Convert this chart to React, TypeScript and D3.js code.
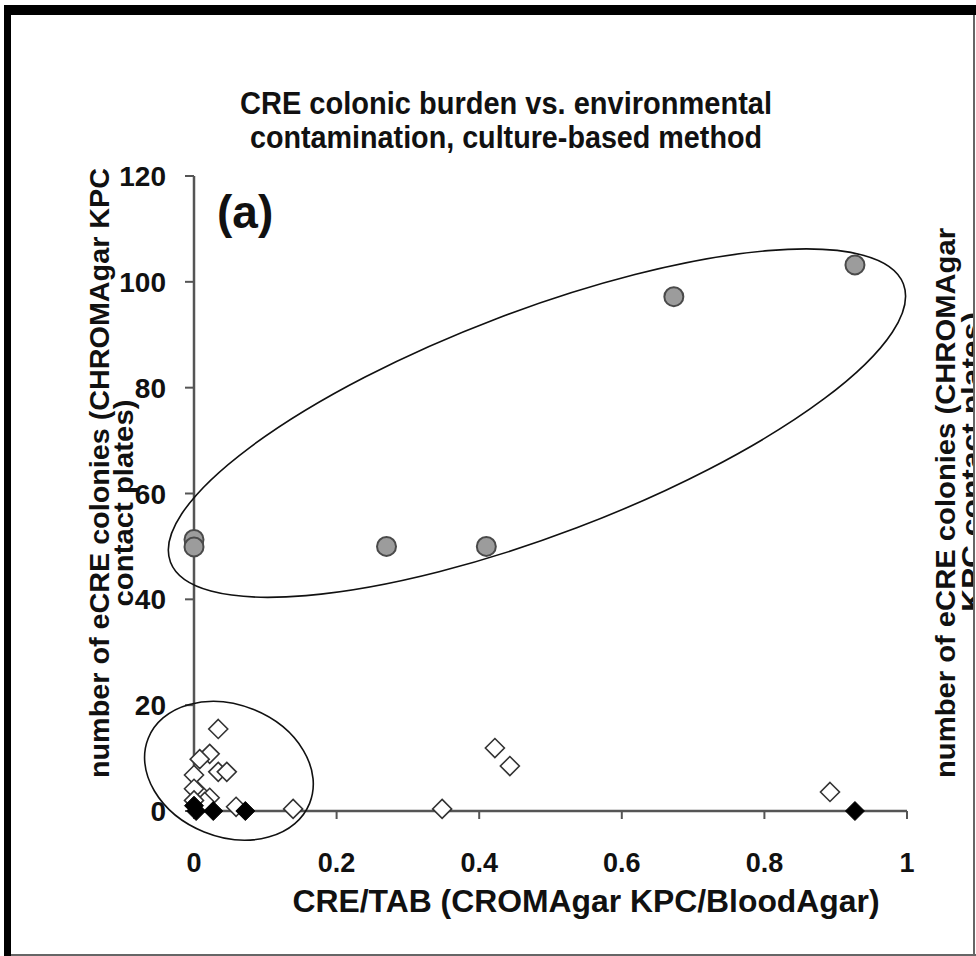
import { useEffect, useRef } from "react";
import * as d3 from "d3";

const xTicks = [0, 0.2, 0.4, 0.6, 0.8, 1];
const xTickLabels = ["0", "0.2", "0.4", "0.6", "0.8", "1"];
const yTicks = [0, 20, 40, 60, 80, 100, 120];

// grey circles: high colonic burden
const highX = [0, 0, 0.27, 0.41, 0.673, 0.927];
const highY = [51.3, 49.9, 50, 50, 97.2, 103.2];

// open diamonds
const openX = [0.034, 0.022, 0.008, 0, 0.034, 0.046, 0.006, 0, 0.022, 0.015, 0, 0.059, 0.139, 0.348, 0.422, 0.443, 0.892];
const openY = [15.5, 10.8, 9.8, 6.8, 7.4, 7.4, 3.6, 4.2, 2.5, 1.7, 2, 0.8, 0.4, 0.4, 11.9, 8.5, 3.6];

// filled diamonds
const zeroX = [0, 0.003, 0.027, 0.072, 0.927];
const zeroY = [1, 0, 0, 0, 0];

const titleLines = ["CRE colonic burden vs. environmental", "contamination, culture-based method"];
const xTitle = "CRE/TAB (CROMAgar KPC/BloodAgar)";
const yTitleLines = ["number of eCRE colonies (CHROMAgar KPC", "contact plates)"];
const y2TitleLines = ["number of eCRE colonies (CHROMAgar", "KPC contact plates)"];

export default function App() {
  const ref = useRef<SVGSVGElement | null>(null);

  useEffect(() => {
    if (!ref.current) return;
    const width = 976;
    const height = 956;
    const svg = d3.select(ref.current).attr("width", width).attr("height", height);
    svg.selectAll("*").remove();

    const x = d3.scaleLinear().domain([0, 1]).range([194, 907]);
    const y = d3.scaleLinear().domain([0, 120]).range([811, 176]);

    const narrow = "'Liberation Sans Narrow', 'Liberation Sans', Arial, sans-serif";
    const sans = "'Liberation Sans', Arial, sans-serif";

    svg.append("rect").attr("width", width).attr("height", height).attr("fill", "#fff");

    /* ---------------- FRAME ---------------- */
    svg.append("rect").attr("x", 4).attr("y", 5).attr("width", 972).attr("height", 10).attr("fill", "#000");
    svg.append("rect").attr("x", 4).attr("y", 5).attr("width", 7).attr("height", 951).attr("fill", "#000");
    svg.append("line").attr("x1", 974).attr("x2", 974).attr("y1", 15).attr("y2", 956)
      .attr("stroke", "#666").attr("stroke-width", 2);
    svg.append("line").attr("x1", 11).attr("x2", 976).attr("y1", 955).attr("y2", 955)
      .attr("stroke", "#666").attr("stroke-width", 2);

    svg.append("clipPath").attr("id", "frameClip")
      .append("rect").attr("x", 11).attr("y", 15).attr("width", 962).attr("height", 939);

    /* ---------------- TITLES ---------------- */
    const title = svg.append("g").attr("font-family", narrow).attr("font-weight", "bold")
      .attr("font-size", 32).attr("text-anchor", "middle").attr("fill", "#111");
    title.append("text").attr("x", 506).attr("y", 114).attr("textLength", 532)
      .attr("lengthAdjust", "spacingAndGlyphs").text(titleLines[0]);
    title.append("text").attr("x", 506).attr("y", 148).attr("textLength", 512)
      .attr("lengthAdjust", "spacingAndGlyphs").text(titleLines[1]);

    svg.append("text").attr("x", 586).attr("y", 912).attr("font-family", narrow)
      .attr("font-weight", "bold").attr("font-size", 31).attr("text-anchor", "middle")
      .attr("textLength", 587).attr("lengthAdjust", "spacingAndGlyphs").attr("fill", "#111")
      .text(xTitle);

    const yt = svg.append("g").attr("font-family", sans).attr("font-weight", "bold").attr("font-size", 27)
      .attr("text-anchor", "middle").attr("fill", "#111");
    yt.append("text").attr("transform", "translate(100,473) rotate(-90)").attr("dy", "0.35em")
      .attr("textLength", 610).attr("lengthAdjust", "spacingAndGlyphs").text(yTitleLines[0]);
    yt.append("text").attr("transform", "translate(124,503) rotate(-90)").attr("dy", "0.35em")
      .attr("textLength", 207).attr("lengthAdjust", "spacingAndGlyphs").text(yTitleLines[1]);

    const yt2 = svg.append("g").attr("clip-path", "url(#frameClip)").attr("font-family", sans)
      .attr("font-weight", "bold").attr("font-size", 27).attr("text-anchor", "middle").attr("fill", "#111");
    yt2.append("text").attr("transform", "translate(946,503) rotate(-90)").attr("dy", "0.35em")
      .attr("textLength", 550).attr("lengthAdjust", "spacingAndGlyphs").text(y2TitleLines[0]);
    yt2.append("text").attr("transform", "translate(972,462) rotate(-90)").attr("dy", "0.35em")
      .attr("textLength", 300).attr("lengthAdjust", "spacingAndGlyphs").text(y2TitleLines[1]);

    svg.append("text").attr("x", 217).attr("y", 228).attr("font-family", sans)
      .attr("font-weight", "bold").attr("font-size", 46).attr("fill", "#111").text("(a)");

    /* ---------------- AXES ---------------- */
    const axisColor = "#555";
    svg.append("line").attr("x1", x(0)).attr("x2", x(0)).attr("y1", y(120)).attr("y2", y(0))
      .attr("stroke", axisColor).attr("stroke-width", 2.5);
    svg.append("line").attr("x1", x(0)).attr("x2", x(1)).attr("y1", y(0)).attr("y2", y(0))
      .attr("stroke", axisColor).attr("stroke-width", 2.5);

    svg.selectAll(".ytick").data(yTicks).enter().append("line")
      .attr("x1", x(0) - 9).attr("x2", x(0)).attr("y1", d => y(d)).attr("y2", d => y(d))
      .attr("stroke", axisColor).attr("stroke-width", 2);
    svg.selectAll(".ylab").data(yTicks).enter().append("text")
      .attr("x", 166).attr("y", d => y(d)).attr("dy", "0.36em").attr("text-anchor", "end")
      .attr("font-family", sans).attr("font-weight", "bold").attr("font-size", 28).attr("fill", "#111")
      .text(d => String(d));

    svg.selectAll(".xtick").data(xTicks).enter().append("line")
      .attr("x1", d => x(d)).attr("x2", d => x(d)).attr("y1", y(0)).attr("y2", y(0) + 8)
      .attr("stroke", axisColor).attr("stroke-width", 2);
    svg.selectAll(".xlab").data(xTicks).enter().append("text")
      .attr("x", d => x(d)).attr("y", 872).attr("text-anchor", "middle")
      .attr("font-family", sans).attr("font-weight", "bold").attr("font-size", 27).attr("fill", "#111")
      .text((_, i) => xTickLabels[i]);

    /* ---------------- ELLIPSES ---------------- */
    const ellipses = [
      { cx: 0.481, cy: 73.3, rx: 392, ry: 112, angle: -20.8 },
      { cx: 0.049, cy: 7.6, rx: 87, ry: 66, angle: 22 },
    ];
    svg.selectAll(".ell").data(ellipses).enter().append("ellipse")
      .attr("transform", d => `translate(${x(d.cx)},${y(d.cy)}) rotate(${d.angle})`)
      .attr("rx", d => d.rx).attr("ry", d => d.ry)
      .attr("fill", "none").attr("stroke", "#111").attr("stroke-width", 1.6);

    /* ---------------- POINTS ---------------- */
    const diamond = (cx: number, cy: number, r: number) =>
      `M${cx},${cy - r}L${cx + r},${cy}L${cx},${cy + r}L${cx - r},${cy}Z`;

    svg.selectAll(".high").data(highX).enter().append("circle")
      .attr("cx", d => x(d)).attr("cy", (_, i) => y(highY[i])).attr("r", 9.5)
      .attr("fill", "#9c9c9c").attr("stroke", "#4a4a4a").attr("stroke-width", 2);

    svg.selectAll(".open").data(openX).enter().append("path")
      .attr("d", (d, i) => diamond(x(d), y(openY[i]), 9.5))
      .attr("fill", "#fff").attr("stroke", "#333").attr("stroke-width", 1.6);

    svg.selectAll(".zero").data(zeroX).enter().append("path")
      .attr("d", (d, i) => diamond(x(d), y(zeroY[i]), 9.5))
      .attr("fill", "#000").attr("stroke", "#000").attr("stroke-width", 1);
  }, []);

  return (
    <div style={{ position: "absolute", left: 0, top: 0 }}>
      <svg ref={ref} style={{ display: "block" }} />
    </div>
  );
}
